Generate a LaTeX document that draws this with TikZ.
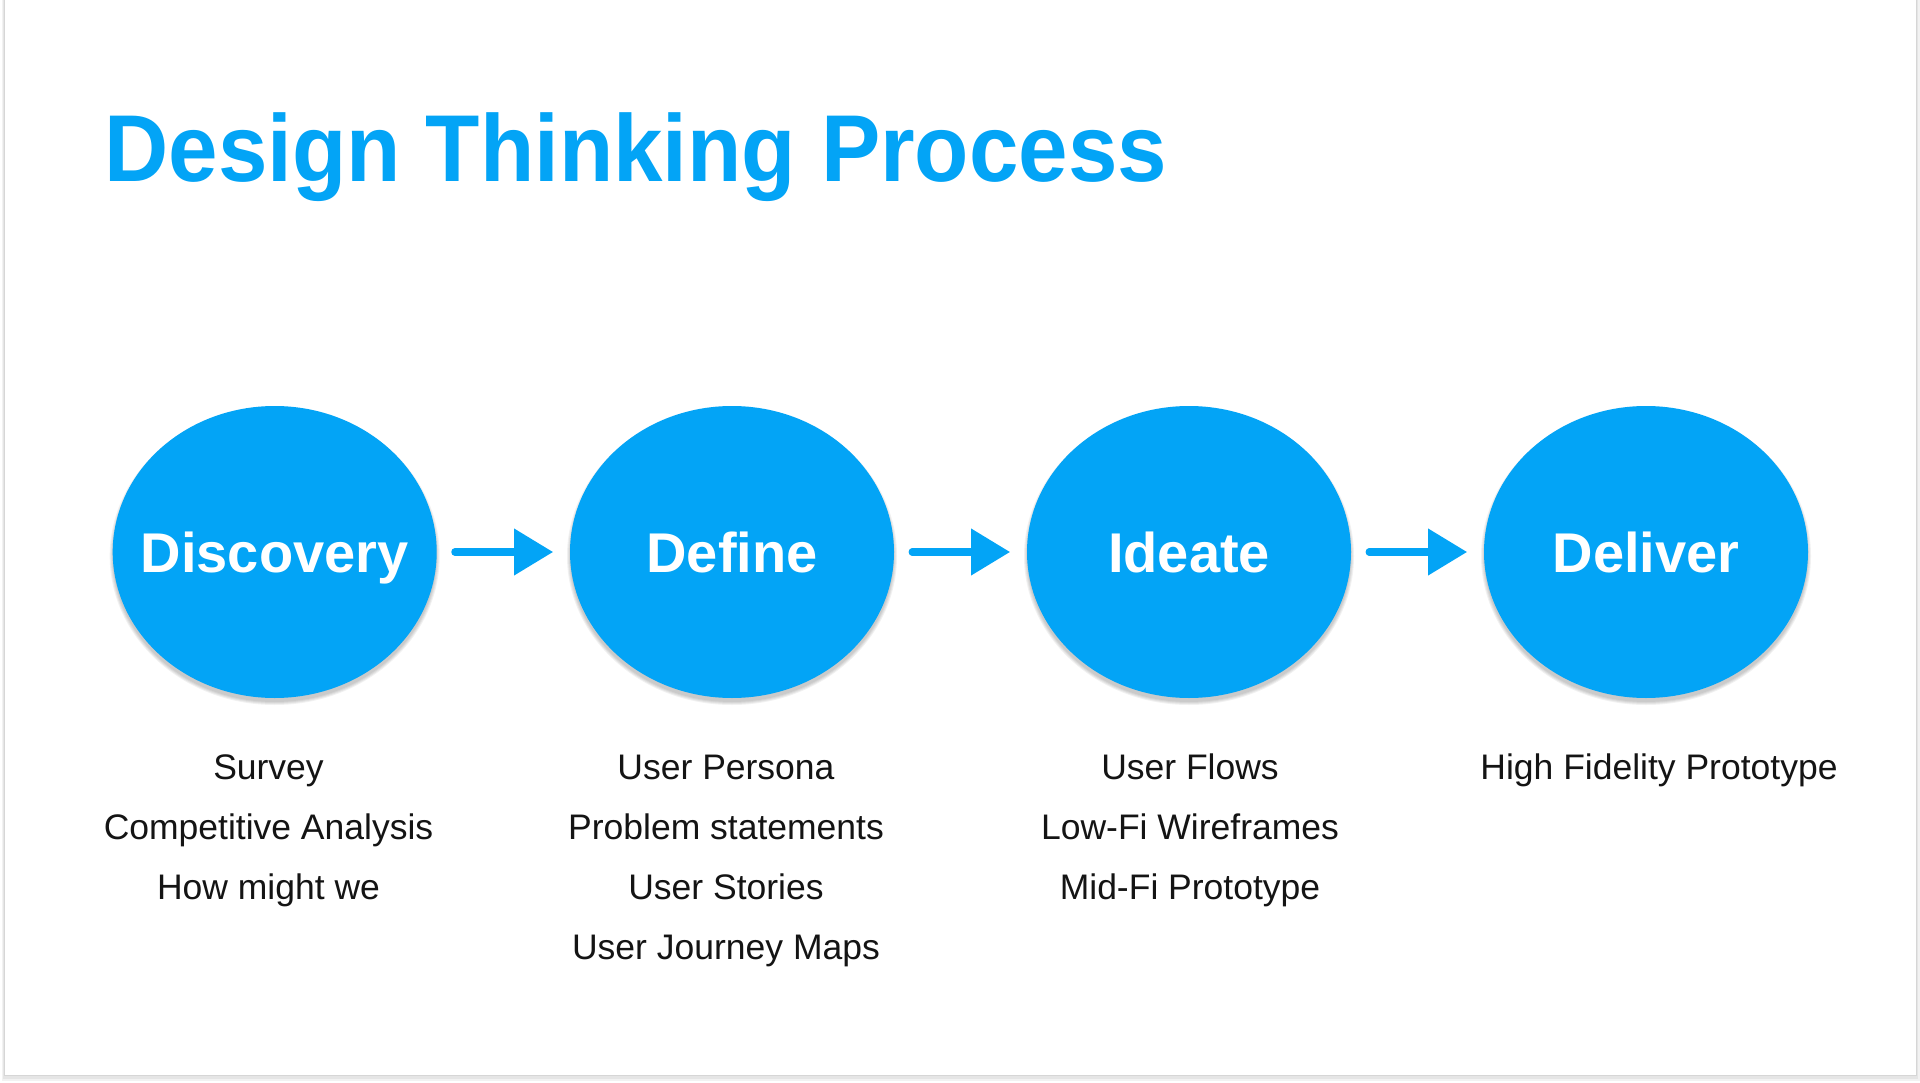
\documentclass[tikz,border=0pt]{standalone}
\usepackage{fontspec}
\setmainfont{Liberation Sans}
\newfontfamily\titlefont[FakeStretch=0.936]{Liberation Sans}
\usetikzlibrary{arrows.meta,shapes.geometric}
\definecolor{dtblue}{HTML}{03A4F6}
\definecolor{dttext}{HTML}{141414}
\tikzset{
  phase/.style={ellipse, fill=dtblue, draw=none, minimum width=324pt, minimum height=292pt, inner sep=0pt},
  phaselabel/.style={text=white, inner sep=0pt, font=\fontsize{56}{60}\selectfont\bfseries},
  item/.style={text=dttext, inner sep=0pt, anchor=base, font=\fontsize{35.5}{40}\selectfont},
  flow/.style={draw=dtblue, line width=7.3pt, line cap=round, -{Triangle[length=39pt,width=45pt]}, shorten <=18pt, shorten >=16.7pt}
}
\begin{document}
\begin{tikzpicture}[x=1pt,y=-1pt]
\useasboundingbox (0,0) rectangle (1920,1083);
\fill[white] (0,0) rectangle (1920,1083);
% slide frame with soft shadow
\fill[black!5] (1.5,-10) rectangle (1919.5,1080.5);
\fill[black!10] (2.5,-10) rectangle (1918,1078.5);
\fill[black!16] (3.5,-10) rectangle (1917,1076);
\fill[white] (4.5,-10) rectangle (1916,1074.5);
% title
\node[anchor=base west, inner sep=0pt, text=dtblue, font=\titlefont\fontsize{95}{100}\selectfont\bfseries] (title) at (104.5,182) {Design Thinking Process};
% circle shadows
\foreach \cx in {274.7,732,1189,1646}{
  \foreach \k in {0,1,2,3}{
    \fill[black, opacity=0.055] (\cx,556) ellipse [x radius={162+\k}, y radius={146+\k}];
  }
}
% phases
\node[phase] (c1) at (274.7,552) {};
\node[phase] (c2) at (732,552) {};
\node[phase] (c3) at (1189,552) {};
\node[phase] (c4) at (1646,552) {};
\node[phaselabel, anchor=base] (l1) at ([yshift=-20pt]c1.center) {Discovery};
\node[phaselabel, anchor=base] (l2) at ([yshift=-20pt]c2.center) {Define};
\node[phaselabel, anchor=base] (l3) at ([yshift=-20pt]c3.center) {Ideate};
\node[phaselabel, anchor=base] (l4) at ([yshift=-20pt]c4.center) {Deliver};
% arrows
\draw[flow] (c1) -- (c2);
\draw[flow] (c2) -- (c3);
\draw[flow] (c3) -- (c4);
% items
\node[item] (a1) at (268.5,779.5) {Survey};
\node[item] (a2) at (268.5,839.5) {Competitive Analysis};
\node[item] (a3) at (268.5,899.5) {How might we};
\node[item] (b1) at (726,779.5) {User Persona};
\node[item] (b2) at (726,839.5) {Problem statements};
\node[item] (b3) at (726,899.5) {User Stories};
\node[item] (b4) at (726,959.5) {User Journey Maps};
\node[item] (d1) at (1190,779.5) {User Flows};
\node[item] (d2) at (1190,839.5) {Low-Fi Wireframes};
\node[item] (d3) at (1190,899.5) {Mid-Fi Prototype};
\node[item] (e1) at (1659,779.5) {High Fidelity Prototype};
\end{tikzpicture}
\end{document}
